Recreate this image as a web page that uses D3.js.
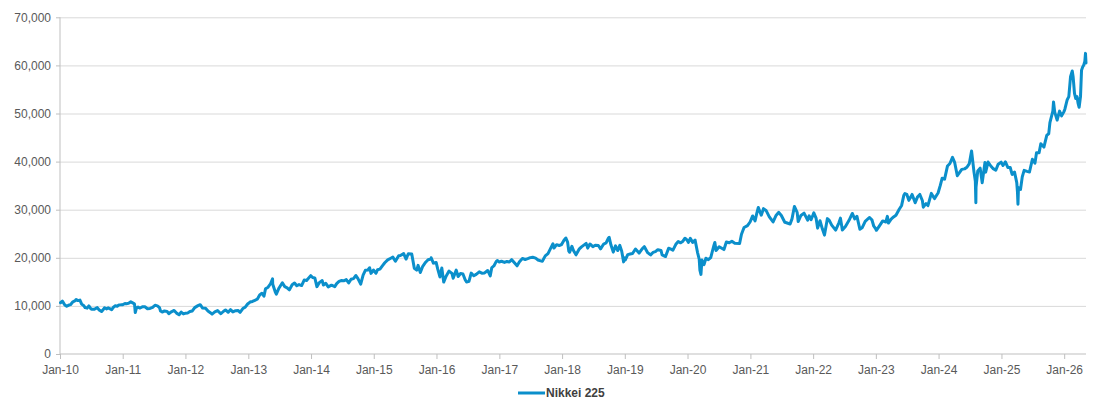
<!DOCTYPE html>
<html>
<head>
<meta charset="utf-8">
<script src="https://cdn.jsdelivr.net/npm/d3@7"></script>
<style>
  html, body { margin: 0; padding: 0; background: #ffffff; }
  svg { display: block; font-family: "Liberation Sans", Arial, sans-serif; }
</style>
</head>
<body>
<svg id="chart" width="1109" height="402"></svg>
<script>
// ---------------- data ----------------
const seriesName = "Nikkei 225";
const yTickValues = [0, 10000, 20000, 30000, 40000, 50000, 60000, 70000];
const xTickLabels = ["Jan-10","Jan-11","Jan-12","Jan-13","Jan-14","Jan-15","Jan-16","Jan-17",
                     "Jan-18","Jan-19","Jan-20","Jan-21","Jan-22","Jan-23","Jan-24","Jan-25","Jan-26"];

const nikkei2010 = [["01-04",10654],["01-15",10983],["01-29",10198],["02-09",9932],["02-19",10123],["03-03",10253],["03-17",10846],["03-31",11090],["04-05",11339],["04-16",11102],["04-27",11212],["05-07",10364],["05-20",10030],["05-27",9639],["06-08",9538],["06-18",9995],["06-30",9383],["07-07",9279],["07-20",9300],["07-30",9537],["08-06",9642],["08-17",9161],["08-31",8824],["09-10",9239],["09-17",9626],["09-30",9369],["10-08",9589],["10-20",9381],["10-29",9202],["11-08",9732],["11-19",10022],["11-30",9937],["12-10",10212],["12-20",10216],["12-30",10229]];
const nikkei2011 = [["01-14",10500],["01-26",10464],["02-04",10543],["02-17",10836],["02-28",10624],["03-10",10434],["03-11",10254],["03-15",8605],["03-22",9608],["03-31",9755],["04-12",9556],["04-28",9849],["05-10",9819],["05-25",9422],["06-09",9467],["06-24",9678],["07-08",10137],["07-22",10010],["08-03",9637],["08-09",8944],["08-19",8719],["09-01",8950],["09-16",8864],["09-26",8374],["10-11",8774],["10-27",9050],["11-10",8500],["11-25",8160],["12-07",8722],["12-20",8337],["12-30",8455]];
const nikkei2012 = [["01-13",8500],["01-27",8841],["02-10",8947],["02-24",9647],["03-14",10050],["03-27",10255],["04-10",9538],["04-27",9520],["05-11",8953],["05-25",8593],["06-04",8296],["06-20",8752],["07-06",9020],["07-25",8365],["08-10",8891],["08-21",9156],["09-06",8680],["09-19",9232],["10-03",8746],["10-19",9002],["11-02",9051],["11-14",8665],["11-30",9446],["12-14",9737],["12-28",10395]];
const nikkei2013 = [["01-11",10801],["01-25",10926],["02-08",11153],["02-22",11386],["03-08",12283],["03-21",12635],["04-02",12003],["04-11",13549],["04-26",13884],["05-10",14607],["05-22",15627],["05-23",14484],["06-07",12877],["06-13",12445],["06-28",13677],["07-18",14808],["08-01",14005],["08-15",13752],["08-28",13338],["09-13",14404],["09-27",14760],["10-10",14194],["10-23",14426],["11-07",14228],["11-22",15381],["12-06",15299],["12-30",16291]];
const nikkei2014 = [["01-10",15912],["01-23",15820],["02-04",14008],["02-18",14843],["03-07",15274],["03-14",14327],["03-28",14696],["04-11",13960],["04-30",14304],["05-19",14006],["05-30",14632],["06-13",15097],["06-25",15266],["07-10",15216],["07-25",15457],["08-08",14778],["08-22",15539],["09-05",15668],["09-19",16321],["10-01",15661],["10-17",14532],["10-31",16413],["11-13",17392],["11-28",17459],["12-08",17935],["12-16",16755],["12-30",17450]];
const nikkei2015 = [["01-14",16795],["01-23",17511],["02-06",17648],["02-20",18332],["03-06",18971],["03-23",19560],["04-10",19908],["04-22",20133],["05-07",19292],["05-26",20437],["06-05",20460],["06-24",20868],["07-08",19737],["07-21",20841],["08-10",20808],["08-25",17806],["09-08",17427],["09-16",18432],["09-29",16930],["10-13",18234],["10-30",19083],["11-13",19597],["11-30",19747],["12-01",20012],["12-14",18883],["12-30",19033]];
const nikkei2016 = [["01-08",17697],["01-21",16017],["02-01",17865],["02-12",14952],["02-26",16188],["03-14",17233],["03-31",16758],["04-07",15749],["04-25",17439],["05-06",16106],["05-20",16736],["06-03",16642],["06-16",15434],["06-24",14952],["07-08",15106],["07-21",16810],["08-05",16254],["08-19",16545],["09-06",17081],["09-21",16807],["10-07",16860],["10-25",17365],["11-09",16251],["11-18",17967],["11-30",18308],["12-14",19253],["12-21",19444],["12-30",19114]];
const nikkei2017 = [["01-13",19287],["01-31",19041],["02-14",19238],["02-28",19119],["03-14",19609],["03-31",18909],["04-14",18335],["04-28",19197],["05-15",19869],["05-31",19650],["06-15",19831],["06-30",20033],["07-14",20118],["07-31",19925],["08-14",19537],["08-29",19362],["09-08",19275],["09-25",20397],["10-11",20881],["10-24",21805],["11-09",22913],["11-15",22028],["11-30",22725],["12-15",22553],["12-29",22764]];
const nikkei2018 = [["01-12",23653],["01-23",24124],["02-02",23274],["02-09",21383],["02-14",21154],["02-27",22390],["03-09",21470],["03-23",20617],["04-10",21795],["04-24",22278],["05-21",23002],["05-30",22018],["06-12",22878],["06-29",22305],["07-13",22597],["07-31",22553],["08-13",21858],["08-31",22865],["09-14",23095],["09-28",24120],["10-02",24270],["10-12",22694],["10-26",21184],["11-08",22486],["11-21",21507],["12-03",22575],["12-14",21374],["12-25",19155],["12-28",20015]];
const nikkei2019 = [["01-04",19562],["01-18",20666],["02-01",20788],["02-15",20900],["03-04",21822],["03-25",20977],["04-12",21870],["04-25",22307],["05-14",21067],["05-31",20601],["06-14",21116],["06-28",21276],["07-12",21686],["07-31",21521],["08-06",20585],["08-26",20261],["09-13",21988],["09-30",21756],["10-08",21588],["10-25",22800],["11-08",23392],["11-22",23113],["12-03",23380],["12-17",24066],["12-30",23657]];
const nikkei2020 = [["01-06",23205],["01-17",24041],["01-31",23205],["02-14",23688],["02-28",21143],["03-09",19699],["03-13",17431],["03-19",16553],["03-25",19546],["04-06",18576],["04-17",19897],["05-01",19619],["05-15",20037],["06-03",22613],["06-08",23178],["06-15",21530],["07-03",22306],["07-31",21710],["08-14",23289],["08-31",23140],["09-15",23454],["10-02",23030],["10-30",22977],["11-10",24905],["11-25",26297],["12-15",26687],["12-30",27444]];
const nikkei2021 = [["01-14",28698],["01-28",27663],["02-08",29388],["02-16",30467],["03-05",28864],["03-18",30216],["04-02",29854],["04-21",28508],["05-13",27448],["05-31",28860],["06-15",29441],["06-30",28792],["07-20",27388],["07-30",27284],["08-20",27013],["08-31",28090],["09-14",30670],["09-30",29453],["10-06",27528],["10-22",28805],["11-09",29286],["11-30",27822],["12-09",28725],["12-20",27937],["12-30",28792]];
const nikkei2022 = [["01-05",29332],["01-18",28257],["01-27",26170],["02-10",27696],["02-24",25971],["03-08",24718],["03-25",28149],["04-05",27787],["04-19",26799],["05-12",25748],["05-31",27279],["06-09",28246],["06-20",25771],["07-08",26517],["07-29",27802],["08-17",29222],["08-31",28092],["09-13",28614],["09-30",25937],["10-13",26237],["10-31",27587],["11-24",28383],["12-09",27901],["12-20",26568],["12-30",26095]];
const nikkei2023 = [["01-04",25717],["01-20",26553],["02-10",27671],["02-28",27446],["03-09",28623],["03-15",27229],["03-31",28041],["04-14",28493],["04-28",28856],["05-17",30093],["05-31",30888],["06-13",33018],["06-19",33370],["06-30",33189],["07-12",31943],["07-31",33172],["08-18",31450],["08-31",32619],["09-14",33168],["09-29",31858],["10-04",30526],["10-20",31259],["10-31",30859],["11-20",33388],["12-08",32307],["12-29",33464]];
const nikkei2024 = [["01-11",35049],["01-22",36546],["02-05",36354],["02-22",39098],["03-07",39598],["03-22",40888],["04-04",39773],["04-19",37068],["05-15",38385],["05-31",38487],["06-14",38814],["06-28",39583],["07-11",42224],["07-25",37869],["08-02",35909],["08-05",31458],["08-06",34675],["08-16",38062],["08-30",38648],["09-11",35620],["09-27",39830],["10-01",37809],["10-15",39910],["10-31",39081],["11-14",38536],["11-29",38208],["12-13",39470],["12-30",39894]];
const nikkei2025 = [["01-10",39190],["01-24",39932],["02-07",38787],["02-21",38776],["03-04",37331],["03-18",37845],["03-31",35618],["04-04",33781],["04-07",31136],["04-10",34609],["04-22",34221],["05-02",36831],["05-13",38184],["05-30",37965],["06-13",37834],["06-30",40487],["07-15",39679],["07-24",41826],["08-08",41820],["08-18",43714],["09-05",43019],["09-22",45494],["10-03",45770],["10-10",48089],["10-27",50512],["10-31",52411],["11-07",50276],["11-21",48626],["12-05",50492],["12-17",49512],["12-30",50340]];
const nikkei2026 = [["01-05",50900],["01-18",52800],["01-28",53500],["02-07",57650],["02-17",58850],["02-22",57650],["03-02",54200],["03-09",53150],["03-17",53500],["03-23",52100],["03-29",51300],["04-06",53500],["04-12",59000],["04-19",59700],["04-25",60100],["05-01",60800],["05-05",62500],["05-08",60500]];

const byYear = [[2010,nikkei2010],[2011,nikkei2011],[2012,nikkei2012],[2013,nikkei2013],[2014,nikkei2014],
  [2015,nikkei2015],[2016,nikkei2016],[2017,nikkei2017],[2018,nikkei2018],[2019,nikkei2019],[2020,nikkei2020],
  [2021,nikkei2021],[2022,nikkei2022],[2023,nikkei2023],[2024,nikkei2024],[2025,nikkei2025],[2026,nikkei2026]];

(function () {
  const parse = d3.timeParse("%Y-%m-%d");
  const data = [];
  byYear.forEach(([yr, arr]) => arr.forEach(([md, v]) => data.push({ date: parse(yr + "-" + md), value: v })));

  const svg = d3.select("#chart");
  const pLeft = 60, pRight = 1086, pTop = 17.3, pBottom = 354;

  const x = d3.scaleTime()
    .domain([new Date(2010, 0, 1), new Date(2026, 4, 8)])
    .range([pLeft, pRight]);
  const y = d3.scaleLinear().domain([0, 70000]).range([pBottom, pTop]);

  const gridColor = "#d9d9d9";
  const axisColor = "#bfbfbf";
  const textColor = "#595959";
  const fontFam = "'Liberation Sans', Arial, sans-serif";

  // gridlines
  svg.append("g")
    .attr("transform", `translate(${pLeft},0)`)
    .call(d3.axisLeft(y).tickValues(yTickValues.slice(1)).tickSize(-(pRight - pLeft)).tickFormat(""))
    .call(g => g.select(".domain").remove())
    .call(g => g.selectAll(".tick line").attr("stroke", gridColor).attr("stroke-width", 1));

  // y axis with labels
  svg.append("g")
    .attr("transform", `translate(${pLeft},0)`)
    .call(d3.axisLeft(y).tickValues(yTickValues).tickSize(4).tickPadding(5).tickFormat(d3.format(",")))
    .call(g => g.select(".domain").attr("stroke", axisColor).attr("d", `M0,${pBottom}V${pTop}`))
    .call(g => g.selectAll(".tick line").attr("stroke", axisColor))
    .call(g => g.selectAll(".tick text").attr("fill", textColor).attr("font-size", 12).attr("font-family", fontFam));

  // x axis
  const yearTicks = d3.timeYear.range(new Date(2010, 0, 1), new Date(2026, 1, 1));
  svg.append("g")
    .attr("transform", `translate(0,${pBottom})`)
    .call(d3.axisBottom(x).tickValues(yearTicks).tickSize(5).tickPadding(6)
      .tickFormat((d, i) => xTickLabels[i]))
    .call(g => g.select(".domain").attr("stroke", axisColor).attr("d", `M${pLeft},0H${pRight}`))
    .call(g => g.selectAll(".tick line").attr("stroke", axisColor))
    .call(g => g.selectAll(".tick text").attr("fill", textColor).attr("font-size", 12).attr("font-family", fontFam));

  // series line
  const lineColor = "#0b8fcb";
  svg.append("path")
    .datum(data)
    .attr("fill", "none")
    .attr("stroke", lineColor)
    .attr("stroke-width", 3)
    .attr("stroke-linejoin", "round")
    .attr("stroke-linecap", "round")
    .attr("d", d3.line().x(d => x(d.date)).y(d => y(d.value)));

  // legend
  const legend = svg.append("g").attr("transform", "translate(518,393)");
  legend.append("line").attr("x1", 0).attr("x2", 27).attr("y1", 0).attr("y2", 0)
    .attr("stroke", lineColor).attr("stroke-width", 3);
  legend.append("text").attr("x", 28).attr("y", 0).attr("dy", "0.35em")
    .attr("font-size", 12).attr("font-weight", "bold").attr("fill", "#404040")
    .attr("font-family", fontFam)
    .text(seriesName);
})();
</script>
</body>
</html>
